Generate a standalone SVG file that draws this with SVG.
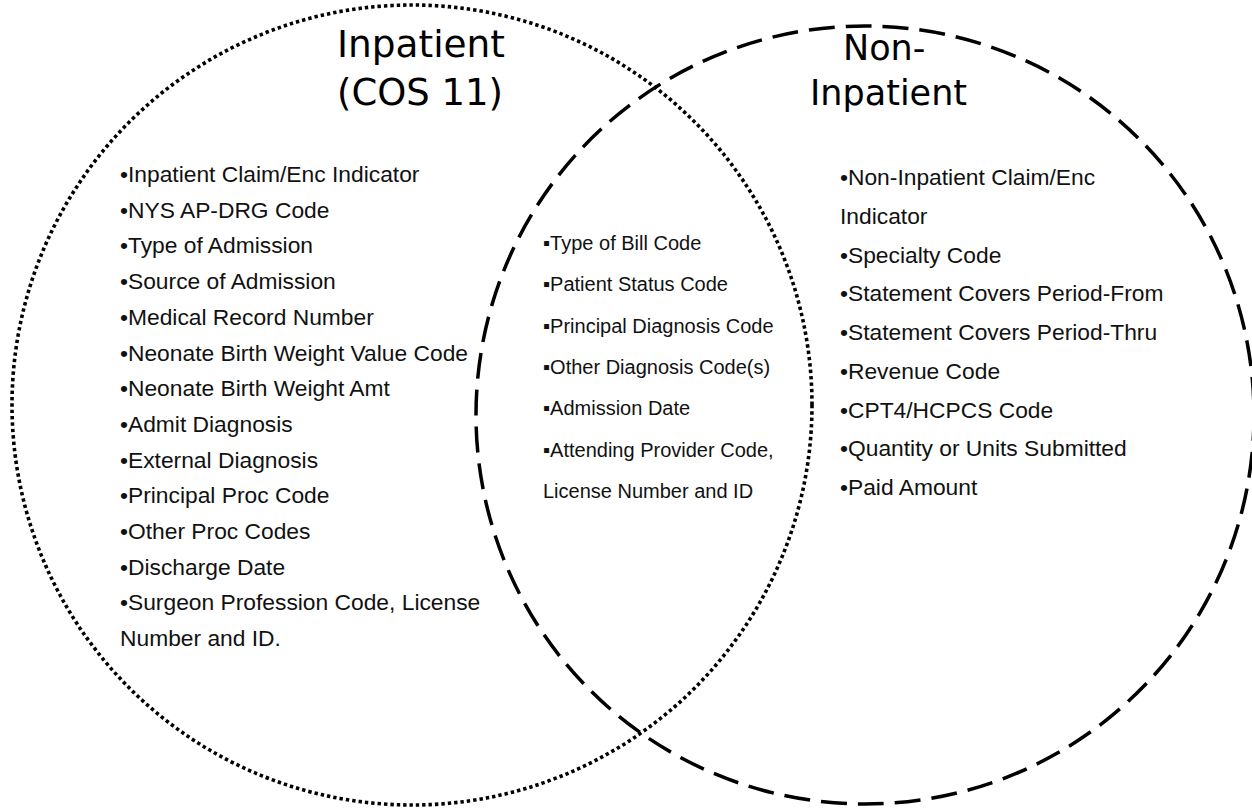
<svg xmlns="http://www.w3.org/2000/svg" width="1252" height="812" viewBox="0 0 1252 812">
<style>
.dotted{fill:none;stroke:#000;stroke-width:3.6;stroke-dasharray:3.4 3}
.dashed{fill:none;stroke:#000;stroke-width:3.5;stroke-dasharray:26 11}
.title{font-family:"DejaVu Sans",sans-serif;fill:#000}
.item{font-family:"Liberation Sans",Arial,sans-serif;font-size:22.8px;fill:#111}
.mid{font-family:"Liberation Sans",Arial,"DejaVu Sans",sans-serif;font-size:20px;fill:#111}
</style>
<rect width="1252" height="812" fill="#fff"/>
<g id="inpatient">
<circle class="dotted" cx="412" cy="405" r="400"/>
<text class="title" font-size="38" x="337" y="57" textLength="168" lengthAdjust="spacingAndGlyphs">Inpatient</text>
<text class="title" font-size="38" x="337" y="105" textLength="166" lengthAdjust="spacingAndGlyphs">(COS 11)</text>
<text class="item" x="120" y="182">•Inpatient Claim/Enc Indicator</text>
<text class="item" x="120" y="217.7">•NYS AP-DRG Code</text>
<text class="item" x="120" y="253.4">•Type of Admission</text>
<text class="item" x="120" y="289.1">•Source of Admission</text>
<text class="item" x="120" y="324.8">•Medical Record Number</text>
<text class="item" x="120" y="360.5">•Neonate Birth Weight Value Code</text>
<text class="item" x="120" y="396.2">•Neonate Birth Weight Amt</text>
<text class="item" x="120" y="431.9">•Admit Diagnosis</text>
<text class="item" x="120" y="467.6">•External Diagnosis</text>
<text class="item" x="120" y="503.3">•Principal Proc Code</text>
<text class="item" x="120" y="539">•Other Proc Codes</text>
<text class="item" x="120" y="574.7">•Discharge Date</text>
<text class="item" x="120" y="610.4">•Surgeon Profession Code, License</text>
<text class="item" x="120" y="646.1">Number and ID.</text>
</g>
<g id="non-inpatient">
<circle class="dashed" cx="865" cy="415" r="389"/>
<text class="title" font-size="35" x="843" y="60">Non-</text>
<text class="title" font-size="35" x="810" y="105">Inpatient</text>
<text class="item" x="840" y="185">•Non-Inpatient Claim/Enc</text>
<text class="item" x="840" y="223.75">Indicator</text>
<text class="item" x="840" y="262.5">•Specialty Code</text>
<text class="item" x="840" y="301.25">•Statement Covers Period-From</text>
<text class="item" x="840" y="340">•Statement Covers Period-Thru</text>
<text class="item" x="840" y="378.75">•Revenue Code</text>
<text class="item" x="840" y="417.5">•CPT4/HCPCS Code</text>
<text class="item" x="840" y="456.25">•Quantity or Units Submitted</text>
<text class="item" x="840" y="495">•Paid Amount</text>
</g>
<g id="overlap">
<text class="mid" x="543" y="250">▪Type of Bill Code</text>
<text class="mid" x="543" y="291.3">▪Patient Status Code</text>
<text class="mid" x="543" y="332.6">▪Principal Diagnosis Code</text>
<text class="mid" x="543" y="373.9">▪Other Diagnosis Code(s)</text>
<text class="mid" x="543" y="415.2">▪Admission Date</text>
<text class="mid" x="543" y="456.5">▪Attending Provider Code,</text>
<text class="mid" x="543" y="497.8">License Number and ID</text>
</g>
</svg>
